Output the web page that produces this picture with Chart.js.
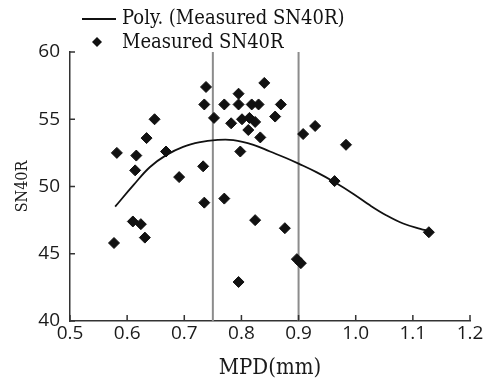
<!DOCTYPE html>
<html>
<head>
<meta charset="utf-8">
<script src="https://cdn.jsdelivr.net/npm/chart.js@4"></script>
<style>
   html, body { margin: 0; padding: 0; background: #ffffff; }
   #wrap { width: 486px; height: 384px; position: relative; }
</style>
</head>
<body>
<div id="wrap"><canvas id="sn40rChart"></canvas></div>
<script>

// measured points
var mpdValues = [
   0.738, 0.840, 0.795, 0.735, 0.770, 0.795, 0.818, 0.830, 0.869, 0.752,
   0.648, 0.782, 0.801, 0.814, 0.824, 0.859, 0.812, 0.833, 0.634, 0.582,
   0.616, 0.668, 0.798, 0.614, 0.733, 0.691, 0.908, 0.929, 0.983, 0.963,
   0.735, 0.770, 0.824, 0.610, 0.624, 0.577, 0.631, 0.795, 0.876, 0.897,
   0.904, 1.128
];
var sn40rValues = [
   57.4, 57.7, 56.9, 56.1, 56.1, 56.1, 56.1, 56.1, 56.1, 55.1,
   55.0, 54.7, 55.0, 55.1, 54.8, 55.2, 54.2, 53.65, 53.6, 52.5,
   52.3, 52.6, 52.6, 51.2, 51.5, 50.7, 53.9, 54.5, 53.1, 50.4,
   48.8, 49.1, 47.5, 47.4, 47.2, 45.8, 46.2, 42.9, 46.9, 44.6,
   44.3, 46.6
];

// polynomial trend line
var trendMpd = [
   0.579, 0.611, 0.640, 0.669, 0.698, 0.728, 0.754, 0.786, 0.821, 0.850,
   0.879, 0.900, 0.932, 0.964, 0.996, 1.025, 1.054, 1.083, 1.113, 1.128
];
var trendSn40r = [
   48.5, 50.1, 51.45, 52.35, 52.95, 53.3, 53.45, 53.45, 53.1, 52.6,
   52.1, 51.7, 51.05, 50.3, 49.45, 48.6, 47.85, 47.25, 46.85, 46.7
];

// vertical reference lines (MPD)
var thresholdMpd = [0.75, 0.90];

var xRange = [0.5, 1.2];
var yRange = [40, 60];

var serifFont = '"DejaVu Serif Condensed", "DejaVu Serif", serif';
var sansFont = '"Open Sans", "Noto Sans", sans-serif';

function toPoints(xs, ys) {
   var pts = [];
   for (var i = 0; i < xs.length; i++) {
      pts.push({ x: xs[i], y: ys[i] });
   }
   return pts;
}

var datasets = [
   {
      type: 'scatter',
      label: 'Measured SN40R',
      data: toPoints(mpdValues, sn40rValues),
      pointStyle: 'rectRot',
      pointRadius: 5.5,
      pointBackgroundColor: '#111111',
      pointBorderColor: '#111111',
      pointBorderWidth: 1
   },
   {
      type: 'line',
      label: 'Poly. (Measured SN40R)',
      data: toPoints(trendMpd, trendSn40r),
      borderColor: '#111111',
      borderWidth: 1.8,
      pointRadius: 0,
      fill: false,
      tension: 0.4
   }
];

// one two-point line per threshold
for (var t = 0; t < thresholdMpd.length; t++) {
   datasets.push({
      type: 'line',
      label: '',
      data: [{ x: thresholdMpd[t], y: yRange[0] }, { x: thresholdMpd[t], y: yRange[1] }],
      borderColor: '#8c8c8c',
      borderWidth: 2,
      pointRadius: 0,
      fill: false
   });
}

/* Draws the short inward tick marks on both axes */
var innerTicks = {
   id: 'innerTicks',
   afterDraw: function(chart) {
      var ctx = chart.ctx;
      var xs = chart.scales.x;
      var ys = chart.scales.y;
      var area = chart.chartArea;
      ctx.save();
      ctx.strokeStyle = '#333333';
      ctx.lineWidth = 1.5;
      ctx.beginPath();
      xs.ticks.forEach(function(tk) {
         var px = xs.getPixelForValue(tk.value);
         ctx.moveTo(px, area.bottom);
         ctx.lineTo(px, area.bottom - 6);
      });
      ys.ticks.forEach(function(tk) {
         var py = ys.getPixelForValue(tk.value);
         ctx.moveTo(area.left, py);
         ctx.lineTo(area.left + 5, py);
      });
      ctx.stroke();
      ctx.restore();
   }
};

/* Two-row legend in the top left corner */
var stackedLegend = {
   id: 'stackedLegend',
   afterDraw: function(chart) {
      var ctx = chart.ctx;
      var ds = chart.data.datasets;
      ctx.save();
      ctx.fillStyle = '#111111';
      ctx.strokeStyle = '#111111';
      ctx.font = '20px ' + serifFont;
      ctx.textBaseline = 'middle';
      ctx.textAlign = 'left';

      // row 1: trend line
      ctx.lineWidth = 1.8;
      ctx.beginPath();
      ctx.moveTo(82, 19);
      ctx.lineTo(116, 19);
      ctx.stroke();
      ctx.fillText(ds[1].label, 122, 19);

      // row 2: diamond marker
      ctx.beginPath();
      ctx.moveTo(97, 37);
      ctx.lineTo(102, 42);
      ctx.lineTo(97, 47);
      ctx.lineTo(92, 42);
      ctx.closePath();
      ctx.fill();
      ctx.fillText(ds[0].label, 122, 43);
      ctx.restore();
   }
};

var ctx = document.getElementById('sn40rChart').getContext('2d');

var sn40rChart = new Chart(ctx, {
   data: { datasets: datasets },
   options: {
      responsive: true,
      maintainAspectRatio: false,
      animation: false,
      layout: {
         padding: { top: 52, right: 16, left: 0, bottom: 0 }
      },
      plugins: {
         legend: { display: false },
         tooltip: { enabled: false }
      },
      scales: {
         x: {
            type: 'linear',
            min: xRange[0],
            max: xRange[1],
            grid: { display: false, drawTicks: false },
            border: { display: true, color: '#333333', width: 1.5 },
            ticks: {
               stepSize: 0.1,
               padding: 1,
               color: '#1a1a1a',
               font: { family: sansFont, size: 19 },
               callback: function(v) { return Number(v).toFixed(1); }
            },
            title: {
               display: true,
               text: 'MPD(mm)',
               color: '#1a1a1a',
               font: { family: serifFont, size: 22 },
               padding: { top: 0, bottom: 3 }
            },
            afterFit: function(scale) { scale.height = 63; }
         },
         y: {
            type: 'linear',
            min: yRange[0],
            max: yRange[1],
            grid: { display: false, drawTicks: false },
            border: { display: true, color: '#333333', width: 1.5 },
            ticks: {
               stepSize: 5,
               padding: 10,
               color: '#1a1a1a',
               font: { family: sansFont, size: 19 }
            },
            title: {
               display: true,
               text: 'SN40R',
               color: '#1a1a1a',
               font: { family: serifFont, size: 16 },
               padding: { top: 13, bottom: 0 }
            },
            afterFit: function(scale) { scale.width = 70; }
         }
      }
   },
   plugins: [innerTicks, stackedLegend]
});

</script>
</body>
</html>
